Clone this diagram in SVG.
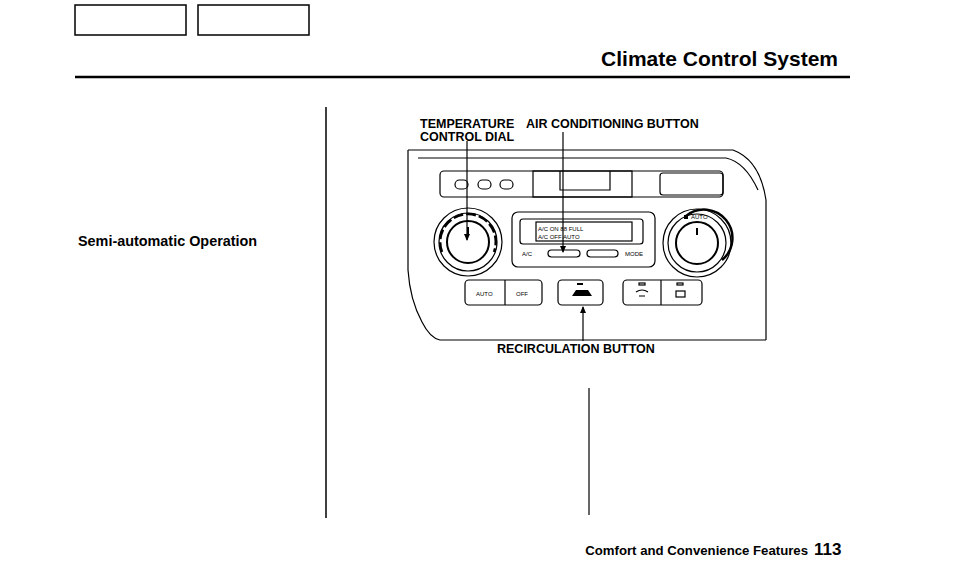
<svg xmlns="http://www.w3.org/2000/svg" width="954" height="572" viewBox="0 0 954 572">
<style>
text{font-family:"Liberation Sans",Arial,sans-serif;font-weight:bold;fill:#000}
.l{font-size:12.5px}
.s{font-size:6px;font-weight:normal}
.k{fill:none;stroke:#000;stroke-width:1.2}
.a{stroke:#000;stroke-width:1.2}
</style>
<defs><marker id="ah" markerWidth="8" markerHeight="8" refX="6" refY="4" orient="auto" markerUnits="userSpaceOnUse"><path d="M0,1 L7,4 L0,7 z" fill="#000"/></marker></defs>
<rect width="954" height="572" fill="#fff"/>
<g id="header">
<rect x="75" y="5" width="111" height="30" fill="#fff" stroke="#000" stroke-width="1.5"/>
<rect x="198" y="5" width="111" height="30" fill="#fff" stroke="#000" stroke-width="1.5"/>
<text x="838" y="66" font-size="21" text-anchor="end">Climate Control System</text>
<line x1="75" y1="77" x2="850" y2="77" stroke="#000" stroke-width="2.5"/>
<line x1="326" y1="107" x2="326" y2="518" stroke="#000" stroke-width="1.5"/>
<line x1="589" y1="388" x2="589" y2="515" stroke="#000" stroke-width="1.2"/>
<text x="78" y="246" font-size="14.4">Semi-automatic Operation</text>
<text x="808" y="555" font-size="13.2" text-anchor="end">Comfort and Convenience Features</text>
<text x="814" y="555" font-size="17">113</text>
</g>
<g id="panel">
<path class="k" d="M408,150 L733,150 Q760,160 766,200 L766,340 M408,150 L408,270 Q410,300 422,322 Q430,338 440,340 L766,340"/>
<path class="k" d="M418,158 L726,158 Q745,162 758,190"/>
<rect class="k" x="440" y="171" width="283" height="26" rx="4"/>
<rect class="k" x="455" y="180" width="13" height="9" rx="4.5"/>
<rect class="k" x="478" y="180" width="13" height="9" rx="4.5"/>
<rect class="k" x="500" y="180" width="13" height="9" rx="4.5"/>
<rect class="k" x="533" y="171" width="99" height="26"/>
<path class="k" d="M560,171 L560,190 L610,190 L610,171"/>
<rect class="k" x="660" y="173" width="63" height="22" rx="3"/>
</g>
<g id="temp-dial">
<circle class="k" cx="468" cy="242" r="34"/>
<circle class="k" cx="468" cy="242" r="29"/>
<circle cx="468" cy="242" r="21" fill="#fff" stroke="#000" stroke-width="2"/>
<path d="M442,252 A28,28 0 0 1 468,214 A28,28 0 0 1 494,252" fill="none" stroke="#000" stroke-width="2.5" stroke-dasharray="10 3"/>
<rect x="467" y="227" width="2" height="7" fill="#000"/>
</g>
<g id="fan-dial">
<circle class="k" cx="697" cy="243" r="34"/>
<circle class="k" cx="697" cy="243" r="29"/>
<circle cx="697" cy="243" r="21" fill="#fff" stroke="#000" stroke-width="2"/>
<path d="M686,216 A28,28 0 0 1 722,260" fill="none" stroke="#000" stroke-width="2.5"/>
<rect x="684" y="215" width="4" height="4" fill="#000"/>
<text x="691" y="219" class="s" font-size="5">AUTO</text>
<rect x="696" y="228" width="2" height="7" fill="#000"/>
</g>
<g id="display">
<rect class="k" x="512" y="212" width="143" height="55" rx="6"/>
<rect class="k" x="520" y="219" width="123" height="25" rx="3"/>
<rect class="k" x="536" y="222" width="96" height="19"/>
<text x="538" y="231" class="s">A/C ON  88 FULL</text>
<text x="538" y="239" class="s">A/C OFF      AUTO</text>
<text x="522" y="256" class="s">A/C</text>
<rect class="k" x="548" y="250" width="32" height="7" rx="3.5"/>
<rect class="k" x="587" y="250" width="31" height="7" rx="3.5"/>
<text x="625" y="256" class="s">MODE</text>
</g>
<g id="buttons">
<rect class="k" x="465" y="280" width="77" height="25" rx="4"/>
<line class="a" x1="505" y1="280" x2="505" y2="305"/>
<text x="476" y="296" class="s">AUTO</text>
<text x="516" y="296" class="s">OFF</text>
<rect class="k" x="558" y="280" width="45" height="25" rx="4"/>
<rect x="577" y="283" width="6" height="2" fill="#000"/>
<path d="M572,296 L576,290 L588,290 L592,296 Z" fill="#000"/>
<rect class="k" x="623" y="280" width="79" height="25" rx="4"/>
<line class="a" x1="661" y1="280" x2="661" y2="305"/>
<rect class="k" x="639" y="283" width="6" height="2"/>
<rect class="k" x="677" y="283" width="6" height="2"/>
<path class="k" d="M636,292 Q642,288 648,292 M639,296 L645,296"/>
<rect class="k" x="676" y="291" width="9" height="6"/>
</g>
<g id="connectors">
<line class="a" x1="467" y1="141" x2="467" y2="240" marker-end="url(#ah)"/>
<line class="a" x1="563" y1="132" x2="563" y2="252" marker-end="url(#ah)"/>
<line class="a" x1="583" y1="341" x2="583" y2="307" marker-end="url(#ah)"/>
</g>
<g id="labels">
<text x="420" y="128" class="l">TEMPERATURE</text>
<text x="420" y="141" class="l">CONTROL DIAL</text>
<text x="526" y="128" class="l">AIR CONDITIONING BUTTON</text>
<text x="497" y="353" class="l">RECIRCULATION BUTTON</text>
</g>
</svg>
